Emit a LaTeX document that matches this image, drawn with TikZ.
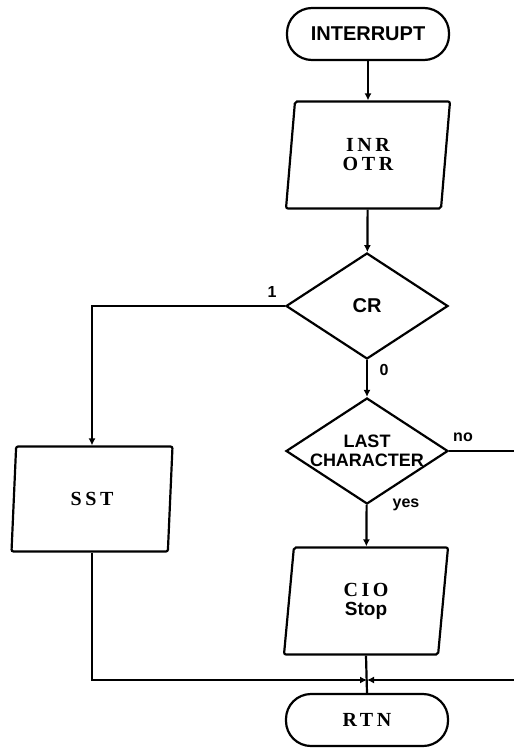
\documentclass[tikz,border=0pt]{standalone}
\usepackage{fontspec}
\setmainfont{Liberation Sans}
\newfontfamily\spaced[LetterSpace=18]{Liberation Serif}
\usetikzlibrary{shapes.geometric,arrows.meta}
\begin{document}
\begin{tikzpicture}[x=1pt, y=-1pt, line width=2.2pt, >={Latex[length=7pt,width=7pt]},
  every node/.style={font=\bfseries\fontsize{20}{18}\selectfont},
  term/.style={draw, rectangle, rounded corners=25pt, minimum width=162pt, minimum height=52pt},
  io/.style={draw, trapezium, trapezium left angle=77, trapezium right angle=103, trapezium stretches body,
    minimum width=164pt, minimum height=107pt, rounded corners=2pt, align=center},
  test/.style={draw, diamond, aspect=1.5, minimum width=162pt, minimum height=106pt, inner sep=0pt, align=center},
  spc/.style={font=\spaced\bfseries\fontsize{20}{19}\selectfont},
  lbl/.style={font=\bfseries\fontsize{16}{16}\selectfont}]
\useasboundingbox (0,0) rectangle (514,750);
\node[term] (int) at (368,34) {INTERRUPT};
\node[io, spc] (inr) at (368,155) {INR\\OTR};
\node[test] (cr) at (367,306) {CR};
\node[test, inner xsep=-10pt, font=\bfseries\fontsize{18}{19}\selectfont] (last) at (367,451) {LAST\\CHARACTER};
\node[io, spc, minimum height=105pt, minimum width=161pt] (sst) at (92,499) {SST};
\node[io, spc] (cio) at (366,601) {CIO\\{\normalfont\bfseries\fontsize{19}{20}\selectfont Stop}};
\node[term, spc] (rtn) at (367,720) {RTN};
\coordinate (jn) at (367,680);
\coordinate (noout) at (514,451);
\coordinate (back) at (514,680);
\node[lbl] (one) at (272,292) {1};
\node[lbl] (zero) at (384,370) {0};
\node[lbl] (no) at (463,437) {no};
\node[lbl] (yes) at (406,505) {yes};
\draw[->] (int) -- (inr);
\draw[->] (inr) -- (cr);
\draw[->] (cr.west) -| (sst.north);
\draw[->] (cr) -- (last);
\draw (last.east) -- (noout);
\draw[->] (last) -- (cio);
\draw[->] (sst.south) |- (jn);
\draw[->] (back) -- (jn);
\draw (cio.south) -- (rtn.north);
\end{tikzpicture}
\end{document}
